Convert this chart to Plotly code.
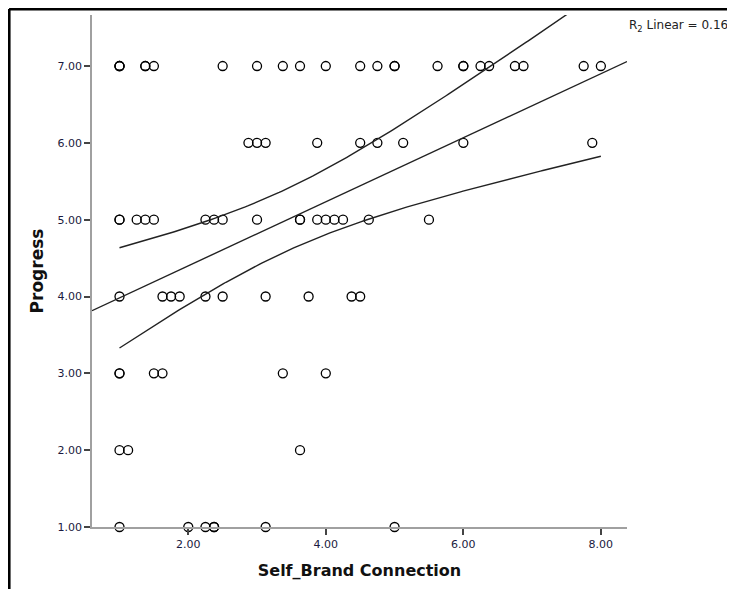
import numpy as np
import plotly.graph_objects as go

# Self_Brand Connection (x) values, grouped by Progress level (y)
sbc_p7 = [1, 1, 1, 1.375, 1.375, 1.5, 2.5, 3, 3.375, 3.625, 4, 4.5, 4.75, 5, 5,
          5.625, 6, 6, 6.25, 6.375, 6.75, 6.875, 7.75, 8]
sbc_p6 = [2.875, 3, 3.125, 3.875, 4.5, 4.75, 5.125, 6, 7.875]
sbc_p5 = [1, 1, 1.25, 1.375, 1.5, 2.25, 2.375, 2.5, 3, 3.625, 3.625, 3.875, 4,
          4.125, 4.25, 4.625, 5.5]
sbc_p4 = [1, 1.625, 1.75, 1.875, 2.25, 2.5, 3.125, 3.75, 4.375, 4.5]
sbc_p3 = [1, 1, 1.5, 1.625, 3.375, 4]
sbc_p2 = [1, 1.125, 3.625]
sbc_p1 = [1, 2, 2.25, 2.375, 2.375, 3.125, 5]

progress_levels = [7, 6, 5, 4, 3, 2, 1]
groups = [sbc_p7, sbc_p6, sbc_p5, sbc_p4, sbc_p3, sbc_p2, sbc_p1]

x_ticks = [2, 4, 6, 8]
y_ticks = [1, 2, 3, 4, 5, 6, 7]
r2_label = "R<sub>2</sub> Linear = 0.161"

x = np.array([v for g in groups for v in g], dtype=float)
y = np.array([lvl for lvl, g in zip(progress_levels, groups) for _ in g], dtype=float)

# Linear regression with 95% confidence interval for the mean
n = len(x)
b1, b0 = np.polyfit(x, y, 1)
resid = y - (b0 + b1 * x)
s = np.sqrt(np.sum(resid ** 2) / (n - 2))
xbar = x.mean()
sxx = np.sum((x - xbar) ** 2)
t_crit = 1.993

x_range = [0.6, 8.38]
y_range = [1.0, 7.664]

xs = np.linspace(x.min(), x.max(), 200)
fit = b0 + b1 * xs
half = t_crit * s * np.sqrt(1 / n + (xs - xbar) ** 2 / sxx)

fig = go.Figure()

fig.add_trace(go.Scatter(
    x=x, y=y, mode="markers",
    marker=dict(symbol="circle-open", size=9, color="black", line=dict(width=1.3)),
    cliponaxis=False, showlegend=False, hoverinfo="x+y"))

fig.add_trace(go.Scatter(
    x=x_range, y=[b0 + b1 * x_range[0], b0 + b1 * x_range[1]], mode="lines",
    line=dict(color="#222222", width=1.4), showlegend=False))
fig.add_trace(go.Scatter(
    x=xs, y=fit + half, mode="lines",
    line=dict(color="#222222", width=1.4), showlegend=False))
fig.add_trace(go.Scatter(
    x=xs, y=fit - half, mode="lines",
    line=dict(color="#222222", width=1.4), showlegend=False))

fig.update_layout(
    width=735, height=589,
    margin=dict(l=84, r=116, t=7, b=70),
    paper_bgcolor="white", plot_bgcolor="white",
    font=dict(family="DejaVu Sans", color="#111111"),
    xaxis=dict(
        range=x_range, tickvals=x_ticks, ticktext=[f"{v:.2f}" for v in x_ticks],
        showgrid=False, zeroline=False, showline=True, linecolor="#a0a0a0", linewidth=1.5,
        ticks="outside", ticklen=6, tickwidth=1.5, tickcolor="#444444",
        tickfont=dict(size=11, color="#1a1a40"),
        title=dict(text="<b>Self_Brand Connection</b>", font=dict(size=16, color="#111111"), standoff=15)),
    yaxis=dict(
        range=y_range, tickvals=y_ticks, ticktext=[f"{v:.2f}" for v in y_ticks],
        showgrid=False, zeroline=False, showline=True, linecolor="#a0a0a0", linewidth=1.5,
        ticks="outside", ticklen=6, tickwidth=1.5, tickcolor="#444444",
        tickfont=dict(size=11, color="#1a1a40"),
        title=dict(text="<b>Progress</b>", font=dict(size=17, color="#111111"), standoff=10)),
    annotations=[dict(
        text=r2_label, xref="paper", yref="paper", x=1.0, y=0.9785,
        xanchor="left", yanchor="middle", showarrow=False,
        font=dict(size=12, color="#222222"))],
    shapes=[
        dict(type="line", xref="paper", yref="paper", x0=-0.155, x1=1.3, y0=1.0117, y1=1.0117,
             line=dict(color="black", width=3)),
        dict(type="line", xref="paper", yref="paper", x0=-0.155, x1=-0.155, y0=1.0117, y1=-0.2,
             line=dict(color="black", width=3)),
    ],
)

fig.write_html("out.html")
